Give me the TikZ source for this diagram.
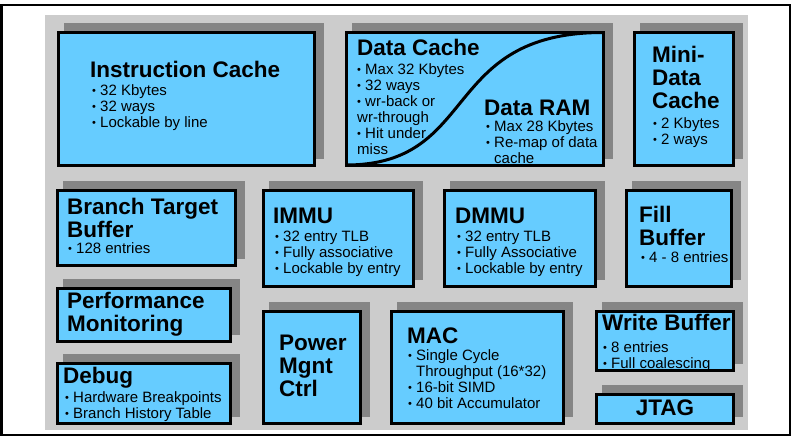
\documentclass[tikz,border=0pt]{standalone}
\usepackage{fontspec}
\setmainfont{Liberation Sans}
\definecolor{boxblue}{HTML}{66CCFF}
\definecolor{bggray}{HTML}{CCCCCC}
\definecolor{shdgray}{HTML}{858585}
\newcommand\TitleFont{\fontsize{22.5}{23}\bfseries}
\newcommand\BulFont{\fontsize{15}{16}\selectfont}
\newcommand\Dot{\hbox to 8pt{\raisebox{0.5pt}{\fontsize{11}{11}\selectfont •}\hss}}
% stacks: first arg = baseline distance
\newcommand\StackT[2]{\vtop{\lineskiplimit=-\maxdimen\baselineskip=#1pt\TitleFont #2}}
\newcommand\StackB[2]{\vtop{\lineskiplimit=-\maxdimen\baselineskip=#1pt\BulFont #2}}
\newcommand\Lt[1]{\hbox{#1}}
\newcommand\Lb[1]{\hbox{\Dot #1}}
\newcommand\Lh[1]{\hbox{\hbox to 8pt{}#1}}
\tikzset{
  blk/.style={draw=black, line width=3pt, fill=boxblue, inner sep=0pt},
  shd/.style={fill=shdgray},
  txt/.style={anchor=base west, inner sep=0pt, text=black},
}
% \Blk{name}{x0}{y0}{x1}{y1}
\newcommand\Blk[5]{%
  \fill[shd] (#2+7,#3-8) rectangle (#4+8,#5-8);
  \node[blk, minimum width={(#4-#2-3)*1pt}, minimum height={(#5-#3-3)*1pt}] (#1) at ({(#2+#4)/2},{(#3+#5)/2}) {};
}
\begin{document}
\begin{tikzpicture}[x=1pt,y=-1pt]
\useasboundingbox (0,0) rectangle (794,440);
\fill[white] (0,0) rectangle (794,440);
\draw[line width=2.5pt] (1.5,5) rectangle (790,435);
\fill[bggray] (45,15) rectangle (748,430);

\Blk{ic}{57}{31}{316}{167}
\Blk{dc}{345}{31}{605}{167}
\Blk{mini}{633}{31}{735}{167}
\Blk{btb}{56}{189}{237}{267}
\Blk{immu}{262}{189}{415}{288}
\Blk{dmmu}{443}{189}{597}{288}
\Blk{fill}{625}{189}{733}{288}
\Blk{pm}{56}{287}{232}{343}
\Blk{dbg}{56}{362}{232}{425}
\Blk{pwr}{262}{310}{362}{425}
\Blk{mac}{390}{310}{565}{425}
\Blk{wb}{595}{310}{735}{372}
\Blk{jtag}{595}{393}{735}{425}

% data cache / data RAM divider
\coordinate (cs) at (346,165);
\coordinate (ce) at (604,32.5);
\draw[line width=3pt] (cs) .. controls (480,165) and (440,32) .. (ce);

% texts
\node[txt] (icT) at (90,77) {\StackT{23}{\Lt{Instruction Cache}}};
\node[txt] (icB) at (92,95) {\StackB{16}{\Lb{32 Kbytes}\Lb{32 ways}\Lb{Lockable by line}}};

\node[txt] (dcT) at (357,55) {\StackT{23}{\Lt{Data Cache}}};
\node[txt] (dcB) at (357,74) {\StackB{15.2}{\Lb{Max 32 Kbytes}\Lb{32 ways}\Lb{wr-back or}\Lt{wr-through}\Lb{Hit under}\Lt{miss}}};

\node[txt] (drT) at (484,115) {\StackT{23}{\Lt{Data RAM}}};
\node[txt] (drB) at (486,131) {\StackB{16}{\Lb{Max 28 Kbytes}\Lb{Re-map of data}\Lh{cache}}};

\node[txt] (miT) at (652,62) {\StackT{23}{\Lt{Mini-}\Lt{Data}\Lt{Cache}}};
\node[txt] (miB) at (653,128) {\StackB{14.5}{\Lb{2 Kbytes}\Lb{2 ways}}};

\node[txt] (btT) at (67,214) {\StackT{23}{\Lt{Branch Target}\Lt{Buffer}}};
\node[txt] (btB) at (68,253) {\StackB{16}{\Lb{128 entries}}};

\node[txt] (imT) at (273,223) {\StackT{23}{\Lt{IMMU}}};
\node[txt] (imB) at (275,241) {\StackB{15.5}{\Lb{32 entry TLB}\Lb{Fully associative}\Lb{Lockable by entry}}};

\node[txt] (dmT) at (455,223) {\StackT{23}{\Lt{DMMU}}};
\node[txt] (dmB) at (457,241) {\StackB{15.5}{\Lb{32 entry TLB}\Lb{Fully Associative}\Lb{Lockable by entry}}};

\node[txt] (fbT) at (639,222) {\StackT{24}{\Lt{Fill}\Lt{Buffer}}};
\node[txt] (fbB) at (641,262) {\StackB{16}{\Lb{4 - 8 entries}}};

\node[txt] (pmT) at (67,308) {\StackT{24}{\Lt{Performance}\Lt{Monitoring}}};

\node[txt] (dbT) at (63,383) {\StackT{23}{\Lt{Debug}}};
\node[txt] (dbB) at (65,402) {\StackB{15}{\Lb{Hardware Breakpoints}\Lb{Branch History Table}}};

\node[txt] (pwT) at (279,350) {\StackT{23.5}{\Lt{Power}\Lt{Mgnt}\Lt{Ctrl}}};

\node[txt] (maT) at (407,343) {\StackT{23}{\Lt{MAC}}};
\node[txt] (maB) at (408,360) {\StackB{15.7}{\Lb{Single Cycle}\Lh{Throughput (16*32)}\Lb{16-bit SIMD}\Lb{40 bit Accumulator}}};

\node[txt] (wbT) at (602,330) {\StackT{23}{\Lt{Write Buffer}}};
\node[txt] (wbB) at (603,352) {\StackB{15}{\Lb{8 entries}\Lb{Full coalescing}}};

\node[anchor=base, inner sep=0pt] (jtT) at (665,415) {\TitleFont JTAG};
\end{tikzpicture}
\end{document}
